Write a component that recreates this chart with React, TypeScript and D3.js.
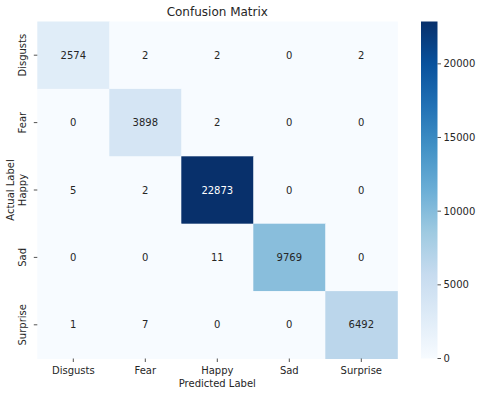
import React from "react";
import * as d3 from "d3";

const labels = ["Disgusts", "Fear", "Happy", "Sad", "Surprise"];
const matrix = [
  [2574, 2, 2, 0, 2],
  [0, 3898, 2, 0, 0],
  [5, 2, 22873, 0, 0],
  [0, 0, 11, 9769, 0],
  [1, 7, 0, 0, 6492],
];
const cbTicks = [0, 5000, 10000, 15000, 20000];
const bluesStops = ["#f7fbff", "#deebf7", "#c6dbef", "#9ecae1", "#6baed6", "#4292c6", "#2171b5", "#08519c", "#08306b"];

export default function App() {
  const W = 480, H = 393;
  const left = 37.3, right = 397.3, top = 21.5, bottom = 358.5;
  const vmax = d3.max(matrix.flat()) as number;
  const x = d3.scaleBand<string>().domain(labels).range([left, right]);
  const y = d3.scaleBand<string>().domain(labels).range([top, bottom]);
  const t = d3.scaleLinear<string>()
    .domain(bluesStops.map((_, i) => i / (bluesStops.length - 1)))
    .range(bluesStops)
    .interpolate(d3.interpolateRgb);
  const color = (v: number) => t(v / vmax);
  const cbX = 421, cbW = 16.5;
  const cy = d3.scaleLinear().domain([0, vmax]).range([bottom, top]);
  const font = "DejaVu Sans, sans-serif";
  const textColor = (v: number) => {
    const c = d3.rgb(color(v));
    const lin = (u: number) => { u /= 255; return u <= 0.03928 ? u / 12.92 : Math.pow((u + 0.055) / 1.055, 2.4); };
    const L = 0.2126 * lin(c.r) + 0.7152 * lin(c.g) + 0.0722 * lin(c.b);
    return L > 0.408 ? "#262626" : "#ffffff";
  };
  return (
    <svg width={W} height={H} style={{ position: "absolute", left: 0, top: 0 }} fontFamily={font}>
      <defs>
        <linearGradient id="cb" x1="0" y1="1" x2="0" y2="0">
          {bluesStops.map((c, i) => (
            <stop key={i} offset={i / (bluesStops.length - 1)} stopColor={c} />
          ))}
        </linearGradient>
      </defs>
      <rect width={W} height={H} fill="white" />
      {matrix.map((row, i) =>
        row.map((v, j) => (
          <g key={`${i}-${j}`}>
            <rect x={x(labels[j])} y={y(labels[i])} width={x.bandwidth() + 0.5} height={y.bandwidth() + 0.5} fill={color(v)} />
            <text x={(x(labels[j]) as number) + x.bandwidth() / 2} y={(y(labels[i]) as number) + y.bandwidth() / 2}
              dy="0.35em" textAnchor="middle" fontSize={10} fill={textColor(v)}>{v}</text>
          </g>
        ))
      )}
      {labels.map((l) => {
        const cx = (x(l) as number) + x.bandwidth() / 2;
        return (
          <g key={"x" + l}>
            <line x1={cx} x2={cx} y1={bottom} y2={bottom + 3.5} stroke="#262626" strokeWidth={0.8} />
            <text x={cx} y={bottom + 15} textAnchor="middle" fontSize={10} fill="#262626">{l}</text>
          </g>
        );
      })}
      {labels.map((l) => {
        const cyv = (y(l) as number) + y.bandwidth() / 2;
        return (
          <g key={"y" + l}>
            <line x1={left - 3.5} x2={left} y1={cyv} y2={cyv} stroke="#262626" strokeWidth={0.8} />
            <text transform={`translate(${left - 11},${cyv}) rotate(-90)`} textAnchor="middle" fontSize={10} fill="#262626">{l}</text>
          </g>
        );
      })}
      <rect x={cbX} y={top} width={cbW} height={bottom - top} fill="url(#cb)" />
      {cbTicks.map((v) => (
        <g key={"c" + v}>
          <line x1={cbX + cbW} x2={cbX + cbW + 3.5} y1={cy(v)} y2={cy(v)} stroke="#262626" strokeWidth={0.8} />
          <text x={cbX + cbW + 6} y={cy(v)} dy="0.35em" fontSize={10} fill="#262626">{v}</text>
        </g>
      ))}
      <text x={(left + right) / 2} y={15.5} textAnchor="middle" fontSize={12} fill="#262626">Confusion Matrix</text>
      <text x={(left + right) / 2} y={386.5} textAnchor="middle" fontSize={10} fill="#262626">Predicted Label</text>
      <text transform={`translate(14,${(top + bottom) / 2}) rotate(-90)`} textAnchor="middle" fontSize={10} fill="#262626">Actual Label</text>
    </svg>
  );
}
